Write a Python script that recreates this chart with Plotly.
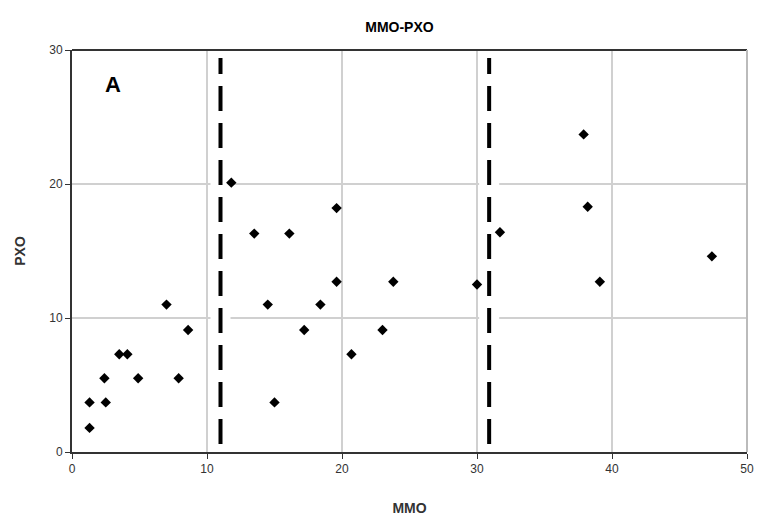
import plotly.graph_objects as go

# Data
mmo = [1.3, 1.3, 2.5, 2.4, 3.5, 4.1, 4.9, 7.9, 7.0, 8.6,
       11.8, 13.5, 14.5, 15.0, 16.1, 17.2, 18.4, 19.6, 19.6, 20.7,
       23.0, 23.8, 30.0, 31.7, 37.9, 38.2, 39.1, 47.4]
pxo = [1.8, 3.7, 3.7, 5.5, 7.3, 7.3, 5.5, 5.5, 11.0, 9.1,
       20.1, 16.3, 11.0, 3.7, 16.3, 9.1, 11.0, 18.2, 12.7, 7.3,
       9.1, 12.7, 12.5, 16.4, 23.7, 18.3, 12.7, 14.6]

cutoffs = [11.0, 30.9]          # dashed vertical threshold lines (MMO)
cutoff_span = [0.6, 29.4]       # vertical extent of the dashed lines (PXO)
x_ticks = [0, 10, 20, 30, 40, 50]
y_ticks = [0, 10, 20, 30]

FONT = "Liberation Sans, Arial, sans-serif"

fig = go.Figure()

# white bands behind dashed lines (they break the gridlines)
for c in cutoffs:
    fig.add_trace(go.Scatter(x=[c, c], y=[0.15, 29.9], mode="lines",
                             line=dict(color="white", width=20),
                             hoverinfo="skip", showlegend=False))
for c in cutoffs:
    fig.add_trace(go.Scatter(x=[c, c], y=cutoff_span, mode="lines",
                             line=dict(color="black", width=4, dash="25px,12px"),
                             hoverinfo="skip", showlegend=False))

fig.add_trace(go.Scatter(x=mmo, y=pxo, mode="markers",
                         marker=dict(symbol="diamond", size=8, color="black"),
                         showlegend=False))

fig.add_annotation(x=3.0, y=27.4, text="<b>A</b>", showarrow=False,
                   font=dict(family=FONT, size=22, color="black"))

# frame: top dark, right gray
fig.add_shape(type="line", xref="paper", yref="paper", x0=0, x1=1, y0=1, y1=1,
              line=dict(color="#333333", width=2))
fig.add_shape(type="line", xref="paper", yref="paper", x0=1, x1=1, y0=0, y1=1,
              line=dict(color="#bbbbbb", width=2))

fig.update_layout(
    width=758, height=523,
    margin=dict(l=72, r=11, t=50, b=71),
    paper_bgcolor="white", plot_bgcolor="white",
    title=dict(text="<b>MMO-PXO</b>", x=0.527, xanchor="center", y=0.948,
               yanchor="middle", font=dict(family=FONT, size=14, color="black")),
    font=dict(family=FONT, size=12, color="#333333"),
)
fig.update_xaxes(range=[0, 50], tickvals=x_ticks, showgrid=True, automargin=False,
                 gridcolor="#d0d0d0", gridwidth=1.5, showline=True,
                 linecolor="#333333", linewidth=2, ticks="outside", ticklen=5,
                 tickcolor="#333333", zeroline=False,
                 title=dict(text="<b>MMO</b>", standoff=28,
                            font=dict(family=FONT, size=14, color="#333333")))
fig.update_yaxes(range=[0, 30], tickvals=y_ticks, showgrid=True, automargin=False,
                 gridcolor="#d0d0d0", gridwidth=1.5, showline=True,
                 linecolor="#333333", linewidth=2, ticks="outside", ticklen=5,
                 tickcolor="#333333", zeroline=False,
                 title=dict(text="<b>PXO</b>", standoff=20,
                            font=dict(family=FONT, size=14, color="#333333")))

fig.write_html("out.html")
